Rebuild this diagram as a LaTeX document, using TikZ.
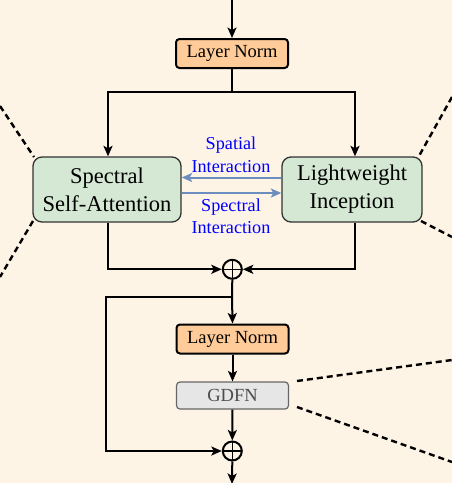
\documentclass[tikz,border=0pt]{standalone}
\usepackage{fontspec}
\setmainfont{Liberation Serif}
\usetikzlibrary{arrows.meta}
\definecolor{bgcream}{RGB}{254,244,230}
\definecolor{normfill}{RGB}{255,204,153}
\definecolor{blockfill}{RGB}{213,232,212}
\definecolor{blockline}{RGB}{50,50,50}
\definecolor{ffnfill}{RGB}{230,230,230}
\definecolor{ffnline}{RGB}{102,102,102}
\definecolor{ffntext}{RGB}{77,77,77}
\definecolor{linkblue}{RGB}{108,142,191}
\definecolor{labelblue}{RGB}{0,0,255}
\tikzset{
  flow/.style={line width=2pt, -{Stealth[length=10.5pt,width=9pt,inset=2.5pt]}},
  wire/.style={line width=2pt},
  link/.style={line width=2pt, draw=linkblue, -{Stealth[length=10.5pt,width=9pt,inset=2.5pt]}},
  zoomline/.style={line width=2.4pt, dash pattern=on 6pt off 4pt},
  normbox/.style={draw, line width=2pt, fill=normfill, rounded corners=3.5pt,
    minimum width=112pt, minimum height=29pt, inner sep=0pt, font=\fontsize{18.5}{22}\selectfont},
  blockbox/.style={draw=blockline, line width=1.3pt, fill=blockfill, rounded corners=9pt,
    minimum width=148pt, minimum height=65pt, inner sep=0pt, align=center,
    font=\fontsize{22.5}{28}\selectfont},
  ffnbox/.style={draw=ffnline, line width=1.2pt, fill=ffnfill, rounded corners=3.5pt,
    minimum width=112pt, minimum height=27pt, inner sep=0pt, text=ffntext,
    font=\fontsize{18.5}{22}\selectfont},
  addnode/.style={draw, circle, line width=2pt, minimum size=19pt, inner sep=0pt,
    path picture={\draw[line width=1.6pt] (path picture bounding box.north) -- (path picture bounding box.south)
      (path picture bounding box.west) -- (path picture bounding box.east);}},
  tag/.style={text=labelblue, align=center, font=\fontsize{18.2}{22.5}\selectfont, inner sep=0pt}
}
\begin{document}
\begin{tikzpicture}[x=1pt,y=-1pt]
  \fill[bgcream] (0,0) rectangle (452,483);
  \useasboundingbox (0,0) rectangle (452,483);

  % blocks
  \node[normbox] (ln1) at (232,53.5) {Layer Norm};
  \node[blockbox] (ssa) at (107,189.5) {Spectral\\Self-Attention};
  \node[blockbox, minimum width=140pt] (li) at (352,189.5) {Lightweight\\Inception};
  \node[addnode] (add1) at (232.3,269.3) {};
  \node[normbox] (ln2) at (232.5,339) {Layer Norm};
  \node[ffnbox] (ffn) at (232.5,395.5) {GDFN};
  \node[addnode] (add2) at (232.3,451) {};

  \coordinate (in) at (232,0);
  \coordinate (out) at (232,484);
  \coordinate (split) at (232,92);
  \coordinate (skip) at (232,297);

  % interaction labels
  \node[tag] (lsp) at (231,155) {Spatial\\Interaction};
  \node[tag] (lsc) at (231,216.5) {Spectral\\Interaction};

  % main flow
  \draw[flow] (in) -- (ln1.north);
  \draw[wire] (ln1.south) -- (split);
  \draw[flow] (split) -| ([xshift=1pt]ssa.north);
  \draw[flow] (split) -| ([xshift=3pt]li.north);
  \draw[flow] ([xshift=1pt]ssa.south) |- (add1.west);
  \draw[flow] ([xshift=3pt]li.south) |- (add1.east);
  \draw[wire] (add1.south) -- (skip);
  \draw[flow] (skip) -- (ln2.north);
  \draw[flow] (ln2.south) -- (ffn.north);
  \draw[flow] (ffn.south) -- (add2.north);
  \draw[flow] (skip) -- (106,297) |- (add2.west);
  \draw[flow] (add2.south) -- (out);

  % cross-branch interaction
  \draw[link] ([yshift=12pt]li.west) -- ([yshift=12pt]ssa.east);
  \draw[link] ([yshift=-3.5pt]ssa.east) -- ([yshift=-3.5pt]li.west);

  % zoom guide lines
  \draw[zoomline] (0,106) -- (34,157);
  \draw[zoomline] (33,221) -- (0,277);
  \draw[zoomline] (452,97) -- (419,156);
  \draw[zoomline] (421,221) -- (452,237);
  \draw[zoomline] (297,381) -- (452,360);
  \draw[zoomline] (297,407) -- (452,462);
\end{tikzpicture}
\end{document}
